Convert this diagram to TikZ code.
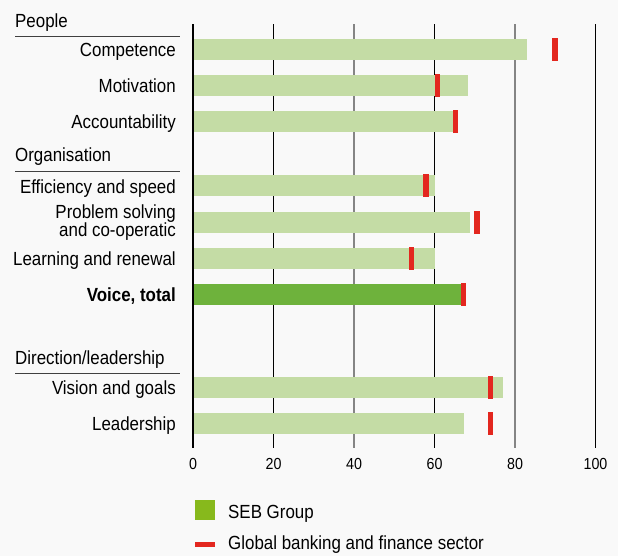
\documentclass[tikz,border=0pt]{standalone}
\usepackage{fontspec}
\setmainfont{Liberation Sans}[FakeStretch=0.89]
\definecolor{bg}{HTML}{F9F9F9}
\definecolor{lightgreen}{HTML}{C4DCA5}
\definecolor{darkgreen}{HTML}{6EB23C}
\definecolor{sebgreen}{HTML}{87B91C}
\definecolor{sectorred}{HTML}{E3271F}
\definecolor{gridgray}{HTML}{858585}
\begin{document}
\begin{tikzpicture}[x=1pt,y=-1pt,
  lbl/.style={anchor=base east, inner sep=0pt, font=\fontsize{19}{17.5}\selectfont},
  hdr/.style={anchor=base west, inner sep=0pt, font=\fontsize{19}{17.5}\selectfont},
  rule/.style={draw=black!75, line width=0.9pt},
  sector/.style={fill=sectorred, minimum width=5.5pt, minimum height=23pt, inner sep=0pt},
  tick/.style={inner sep=0pt, font=\fontsize{16}{16}\selectfont},
  legendtext/.style={anchor=base west, inner sep=0pt, font=\fontsize{19}{19}\selectfont}]
\useasboundingbox (0,0) rectangle (618,556);
\fill[bg] (0,0) rectangle (618,556);

% group headings
\node[hdr] (people) at (15,27.3) {People};
\draw[rule] (15,36.5)--(180,36.5);
\node[hdr] (organisation) at (15,161.3) {Organisation};
\draw[rule] (15,171)--(180,171);
\node[hdr] (direction) at (15,364.3) {Direction/leadership};
\draw[rule] (15,373.5)--(180,373.5);

% row labels
\node[lbl] (competence) at (176,56.6) {Competence};
\node[lbl] (motivation) at (176,92.6) {Motivation};
\node[lbl] (accountability) at (176,128.6) {Accountability};
\node[lbl] (efficiency) at (176,193.1) {Efficiency and speed};
\node[lbl, anchor=east, align=right] (problem) at (176,222.5) {Problem solving\\and co-operatic};
\node[lbl] (learning) at (176,265.1) {Learning and renewal};
\node[lbl, font=\fontsize{19}{17.5}\selectfont\bfseries] (voice) at (176,301.6) {Voice, total};
\node[lbl] (vision) at (176,394.6) {Vision and goals};
\node[lbl] (leadership) at (176,430.1) {Leadership};

\begin{scope}[shift={(193,0)}, x=4.025pt]
% grid
\foreach \v/\c in {20/black,40/gridgray,60/black,80/gridgray,100/black}
  \draw[\c, line width=1.5pt] (\v,24.5)--(\v,448);
% bars
\fill[lightgreen] (0,39) rectangle (83,60);
\fill[lightgreen] (0,75) rectangle (68.3,96);
\fill[lightgreen] (0,111) rectangle (64.7,132);
\fill[lightgreen] (0,175.5) rectangle (60,196.5);
\fill[lightgreen] (0,211.5) rectangle (68.8,232.5);
\fill[lightgreen] (0,247.5) rectangle (60,268.5);
\fill[darkgreen] (0,284) rectangle (66.5,305);
\fill[lightgreen] (0,377) rectangle (77.1,398);
\fill[lightgreen] (0,412.5) rectangle (67.3,433.5);
% global banking and finance sector
\node[sector] (m1) at (89.9,49.5) {};
\node[sector] (m2) at (60.8,85.5) {};
\node[sector] (m3) at (65.2,121.5) {};
\node[sector] (m4) at (57.9,186) {};
\node[sector] (m5) at (70.6,222) {};
\node[sector] (m6) at (54.3,258) {};
\node[sector] (m7) at (67.2,294.5) {};
\node[sector] (m8) at (73.9,387.5) {};
\node[sector] (m9) at (73.9,423) {};
% axis
\draw[black, line width=2.6pt] (0,24.5)--(0,448);
\foreach \v in {0,20,40,60,80,100}
  \node[tick] (t\v) at (\v,464.2) {\v};
\end{scope}

% legend
\fill[sebgreen] (195,500) rectangle (215,520);
\node[legendtext] (seb) at (228,518.6) {SEB Group};
\draw[sectorred, line width=5pt] (195,544.3)--(215,544.3);
\node[legendtext] (global) at (228,549.6) {Global banking and finance sector};
\end{tikzpicture}
\end{document}
